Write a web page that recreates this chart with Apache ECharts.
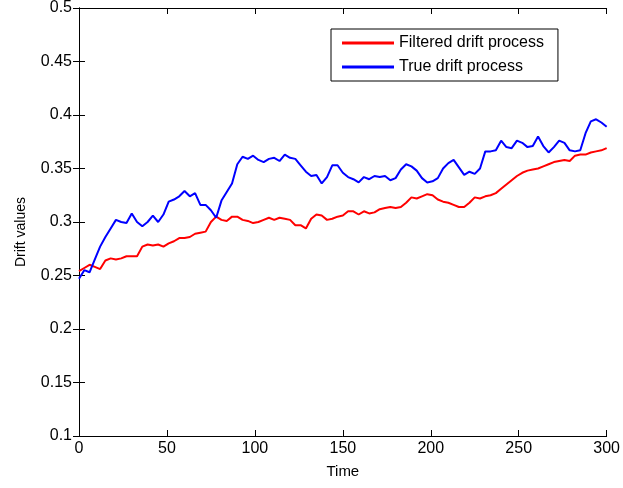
<!DOCTYPE html>
<html lang="en" style="height: 100%">
<head>
    <meta charset="UTF-8">
    <title>Drift</title>
    <style>
        #main{
            width: 623px;
            height: 488px;
        }
    </style>
    <script src="https://cdn.jsdelivr.net/npm/echarts@6/dist/echarts.min.js"></script>
</head>
<body style="margin: 0; background: #fff">
<div id="main"></div>
<script>
    // time step of 3, 0..300
    var times = [];
    for (var t = 0; t <= 300; t += 3) times.push(t);

    var filtered = [
        0.254, 0.257, 0.260, 0.258, 0.256, 0.264, 0.266, 0.265, 0.266, 0.268,
        0.268, 0.268, 0.277, 0.279, 0.278, 0.279, 0.277, 0.280, 0.282, 0.285,
        0.285, 0.286, 0.289, 0.290, 0.291, 0.300, 0.305, 0.302, 0.301, 0.305,
        0.305, 0.302, 0.301, 0.299, 0.300, 0.302, 0.304, 0.302, 0.304, 0.303,
        0.302, 0.297, 0.297, 0.294, 0.303, 0.307, 0.306, 0.302, 0.303, 0.305,
        0.306, 0.310, 0.310, 0.307, 0.310, 0.308, 0.309, 0.312, 0.313, 0.314,
        0.313, 0.314, 0.318, 0.323, 0.322, 0.324, 0.326, 0.325, 0.321, 0.319,
        0.318, 0.316, 0.314, 0.314, 0.318, 0.323, 0.322, 0.324, 0.325, 0.327,
        0.331, 0.335, 0.339, 0.343, 0.346, 0.348, 0.349, 0.350, 0.352, 0.354,
        0.356, 0.357, 0.358, 0.357, 0.362, 0.363, 0.363, 0.365, 0.366, 0.367,
        0.369
    ];

    var trueDrift = [
        0.247, 0.255, 0.253, 0.265, 0.277, 0.286, 0.294, 0.302, 0.300, 0.299,
        0.308, 0.300, 0.296, 0.300, 0.306, 0.300, 0.307, 0.319, 0.321, 0.324,
        0.329, 0.324, 0.327, 0.316, 0.316, 0.311, 0.304, 0.320, 0.328, 0.336,
        0.354, 0.361, 0.359, 0.362, 0.358, 0.356, 0.359, 0.360, 0.357, 0.363,
        0.360, 0.359, 0.353, 0.347, 0.343, 0.344, 0.336, 0.342, 0.353, 0.353,
        0.346, 0.342, 0.340, 0.337, 0.342, 0.340, 0.343, 0.342, 0.343, 0.339,
        0.341, 0.349, 0.354, 0.352, 0.348, 0.341, 0.337, 0.338, 0.341, 0.350,
        0.355, 0.358, 0.351, 0.344, 0.347, 0.345, 0.350, 0.366, 0.366, 0.367,
        0.376, 0.370, 0.369, 0.376, 0.374, 0.370, 0.371, 0.380, 0.371, 0.365,
        0.370, 0.376, 0.374, 0.367, 0.366, 0.367, 0.383, 0.394, 0.396, 0.393,
        0.389
    ];

    function pairs(vals) {
        return vals.map(function (v, i) { return [times[i], v]; });
    }

    var chart = echarts.init(document.getElementById('main'));
    var font = 'Liberation Sans, Arial, sans-serif';
    var boxLine = {show: true, lineStyle: {color: '#000', width: 1}};
    var inTick = {show: true, inside: true, length: 6, lineStyle: {color: '#000'}};

    var option = {
        animation: false,
        backgroundColor: '#fff',
        textStyle: {fontFamily: font},
        grid: {left: 79, right: 13, top: 8, bottom: 52},
        legend: {
            left: 331,
            top: 29,
            orient: 'vertical',
            backgroundColor: '#fff',
            borderColor: '#000',
            borderWidth: 1,
            borderRadius: 0,
            padding: [6, 14, 6, 11],
            itemGap: 8,
            icon: 'rect',
            itemWidth: 52,
            itemHeight: 3,
            textStyle: {fontSize: 16, color: '#000', fontFamily: font},
            data: ['Filtered drift process', 'True drift process']
        },
        xAxis: [{
            type: 'value',
            min: 0, max: 300, interval: 50,
            name: 'Time',
            nameLocation: 'middle',
            nameGap: 28,
            nameTextStyle: {fontSize: 15, color: '#000'},
            axisLine: boxLine,
            axisTick: inTick,
            splitLine: {show: false},
            axisLabel: {fontSize: 16, color: '#000', margin: 5}
        }, {
            type: 'value',
            position: 'top',
            min: 0, max: 300, interval: 50,
            axisLine: boxLine,
            axisTick: inTick,
            splitLine: {show: false},
            axisLabel: {show: false}
        }],
        yAxis: [{
            type: 'value',
            min: 0.1, max: 0.5, interval: 0.05,
            name: 'Drift values',
            nameLocation: 'middle',
            nameGap: 51,
            nameTextStyle: {fontSize: 14, color: '#000', padding: [0, 20, 0, 0]},
            axisLine: boxLine,
            axisTick: inTick,
            splitLine: {show: false},
            axisLabel: {fontSize: 16, color: '#000', margin: 7}
        }, {
            type: 'value',
            position: 'right',
            min: 0.1, max: 0.5, interval: 0.05,
            axisLine: boxLine,
            axisTick: inTick,
            splitLine: {show: false},
            axisLabel: {show: false}
        }],
        series: [{
            name: 'Filtered drift process',
            type: 'line',
            symbol: 'none',
            color: '#ff0000',
            lineStyle: {color: '#ff0000', width: 2},
            data: pairs(filtered)
        }, {
            name: 'True drift process',
            type: 'line',
            symbol: 'none',
            color: '#0000ff',
            lineStyle: {color: '#0000ff', width: 2},
            data: pairs(trueDrift)
        }]
    };

    chart.setOption(option);
</script>
</body>
</html>
